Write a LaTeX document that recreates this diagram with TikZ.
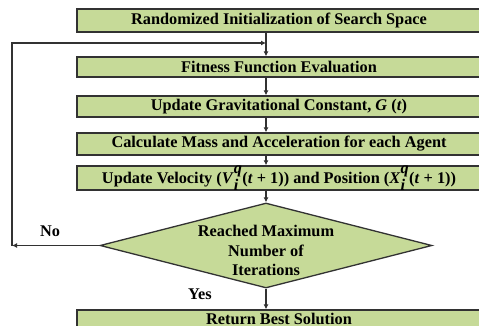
\documentclass[tikz,border=0pt]{standalone}
\usepackage{fontspec}
\setmainfont{Liberation Serif}
\usetikzlibrary{shapes.geometric,arrows.meta}
\definecolor{boxgreen}{RGB}{198,218,152}
\definecolor{edgegray}{RGB}{50,50,50}
\begin{document}
\begin{tikzpicture}[x=1pt,y=-1pt,
                    thick,
                    step box/.style={rectangle,draw=edgegray,line width=1.3pt,fill=boxgreen,
                      minimum width=404pt,inner sep=0pt,font=\bfseries\fontsize{16.3}{18}\selectfont},
                    test node/.style={diamond,draw=edgegray,line width=1.3pt,fill=boxgreen,aspect=3.9,
                      inner sep=0pt,minimum width=332pt,minimum height=85pt},
                    test text/.style={align=center,inner sep=0pt,font=\bfseries\fontsize{16.3}{19.5}\selectfont},
                    flow/.style={edgegray,line width=1.4pt,-{Latex[length=5pt,width=5pt]}},
                    tag/.style={font=\bfseries\fontsize{16.3}{18}\selectfont}]

      \useasboundingbox (0,0) rectangle (479,326);

      % Define steps
      \node[step box,minimum height=23pt] (init) at (279,20.5) {Randomized Initialization of Search Space};
      \node[step box,minimum height=20pt] (fit) at (279,67) {Fitness Function Evaluation};
      \node[step box,minimum height=21pt] (grav) at (279,106.5) {Update Gravitational Constant, \textit{G} (\textit{t})};
      \node[step box,minimum height=22pt] (mass) at (279,144) {Calculate Mass and Acceleration for each Agent};
      \node[step box,minimum height=20pt] (upd) at (279,178)
        {Update Velocity (\textit{V}$^{\textit{q}}_{\textit{i}}$(\textit{t} + 1)) and Position (\textit{X}$^{\textit{q}}_{\textit{i}}$(\textit{t} + 1))};
      \node[test node] (stop) at (266,245.5) {};
      \node[test text] (stoptext) at (266,250.5) {Reached Maximum\\Number of\\Iterations};
      \node[step box,minimum height=17pt] (best) at (279,318.5) {Return Best Solution};

      \coordinate (join) at (266,43);
      \coordinate (corner) at (12,245.5);

      % Draw edges
      \draw[flow] (init.south -| stop.north) -- (fit.north -| stop.north);
      \draw[flow] (fit.south -| stop.north) -- (grav.north -| stop.north);
      \draw[flow] (grav.south -| stop.north) -- (mass.north -| stop.north);
      \draw[flow] (mass.south -| stop.north) -- (upd.north -| stop.north);
      \draw[flow] (upd.south -| stop.north) -- (stop.north);
      \draw[flow] (stop.south) -- (best.north -| stop.south);
      \draw[flow] (stop.west) -- (corner);
      \draw[flow] (corner) |- (join);

      % Labels
      \node[tag] (no) at (50,231) {No};
      \node[tag] (yes) at (200,294) {Yes};

    \end{tikzpicture}
\end{document}
